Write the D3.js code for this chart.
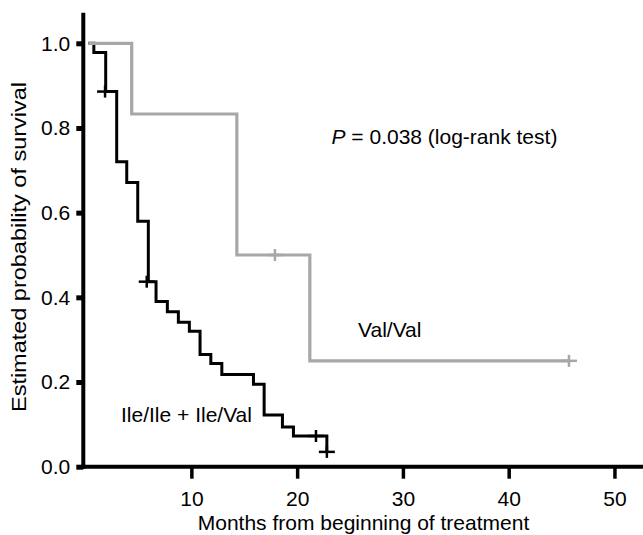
<!DOCTYPE html>
<html>
<head>
<meta charset="utf-8">
<script src="https://cdn.jsdelivr.net/npm/d3@7"></script>
<style>
  html, body { margin: 0; padding: 0; background: #fff; }
  svg { display: block; }
  text { font-family: "Liberation Sans", Arial, Helvetica, sans-serif; fill: #000; }
</style>
</head>
<body>
<svg id="chart" width="643" height="535"></svg>
<script>
// ---- data ----
const blackStart = 0.25;
const blackTimes = [0.78, 1.9, 2.94, 3.89, 4.93, 5.93, 6.66, 7.73, 8.77, 9.81, 10.82, 11.84, 12.88, 15.87, 16.88, 18.61, 19.65, 22.81];
const blackSurv  = [0.978, 0.886, 0.72, 0.671, 0.58, 0.437, 0.39, 0.366, 0.341, 0.32, 0.265, 0.244, 0.218, 0.195, 0.122, 0.094, 0.0725, 0.035];
const blackCensorTimes = [1.84, 5.78, 21.78, 22.81];
const blackCensorSurv  = [0.886, 0.437, 0.0725, 0.035];

const grayStart = 0.25;
const grayTimes = [4.36, 14.3, 21.2];
const graySurv  = [0.833, 0.5, 0.25];
const grayEnd = 45.7;
const grayCensorTimes = [17.9, 45.7];
const grayCensorSurv  = [0.5, 0.25];

const xTicks = [10, 20, 30, 40, 50];
const yTicks = [0, 0.2, 0.4, 0.6, 0.8, 1.0];
const yTickLabels = ["0.0", "0.2", "0.4", "0.6", "0.8", "1.0"];

const pText = "= 0.038 (log-rank test)";
const labelGray = "Val/Val";
const labelBlack = "Ile/Ile + Ile/Val";
const xTitle = "Months from beginning of treatment";
const yTitle = "Estimated probability of survival";

// ---- scales ----
const svg = d3.select("#chart");
const x = d3.scaleLinear().domain([0, 52.7]).range([85.6, 643]);
const y = d3.scaleLinear().domain([0, 1]).range([466.7, 43.3]);
const FS = 21;
const grayColor = "#a7a7a7";

// step path builder
function stepPoints(start, times, surv, end) {
  const pts = [[start, 1]];
  let cur = 1;
  times.forEach((t, i) => {
    pts.push([t, cur]);
    cur = surv[i];
    pts.push([t, cur]);
  });
  if (end !== undefined) pts.push([end, cur]);
  return pts;
}
const line = d3.line().x(d => x(d[0])).y(d => y(d[1]));

// ---- axes ----
const axisX = x(0) - 2.3;
const gy = svg.append("g").attr("transform", `translate(${axisX},0)`)
  .call(d3.axisLeft(y).tickValues(yTicks).tickFormat((d, i) => yTickLabels[i]).tickSize(7).tickPadding(6));
gy.select(".domain").remove();
gy.selectAll(".tick line").attr("stroke", "#000").attr("stroke-width", 5);
gy.selectAll(".tick text").style("font-size", FS + "px").attr("fill", "#000");

const gx = svg.append("g").attr("transform", `translate(0,${y(0)})`)
  .call(d3.axisBottom(x).tickValues(xTicks).tickFormat(d3.format("d")).tickSize(12).tickPadding(12));
gx.select(".domain").remove();
gx.selectAll(".tick line").attr("stroke", "#000").attr("stroke-width", 3.5);
gx.selectAll(".tick text").style("font-size", FS + "px").attr("fill", "#000");

svg.append("line").attr("x1", axisX).attr("x2", axisX)
  .attr("y1", y(1.072)).attr("y2", y(0) + 2)
  .attr("stroke", "#000").attr("stroke-width", 4);
svg.append("line").attr("x1", axisX - 2).attr("x2", x(52.7))
  .attr("y1", y(0)).attr("y2", y(0))
  .attr("stroke", "#000").attr("stroke-width", 4);

// ---- curves ----
svg.append("path")
  .attr("d", line(stepPoints(blackStart, blackTimes, blackSurv)))
  .attr("fill", "none").attr("stroke", "#000").attr("stroke-width", 3);
svg.append("path")
  .attr("d", line(stepPoints(grayStart, grayTimes, graySurv, grayEnd)))
  .attr("fill", "none").attr("stroke", grayColor).attr("stroke-width", 3.2);

function censors(times, surv, color, w) {
  const g = svg.append("g");
  times.forEach((t, i) => {
    const cx = x(t), cy = y(surv[i]);
    g.append("line").attr("x1", cx - 8).attr("x2", cx + 8).attr("y1", cy).attr("y2", cy)
      .attr("stroke", color).attr("stroke-width", w);
    g.append("line").attr("x1", cx).attr("x2", cx).attr("y1", cy - 6).attr("y2", cy + 6)
      .attr("stroke", color).attr("stroke-width", w);
  });
}
censors(blackCensorTimes, blackCensorSurv, "#000", 2.5);
censors(grayCensorTimes, grayCensorSurv, grayColor, 2.5);

// ---- texts ----
const pt = svg.append("text").attr("x", 331.5).attr("y", 144).style("font-size", FS + "px");
pt.append("tspan").style("font-style", "italic").text("P");
pt.append("tspan").text(" " + pText);

svg.append("text").attr("x", 358).attr("y", 337).style("font-size", FS + "px").text(labelGray);
svg.append("text").attr("x", 121).attr("y", 422).style("font-size", FS + "px").text(labelBlack);

svg.append("text").attr("x", 363.5).attr("y", 530).attr("text-anchor", "middle")
  .style("font-size", FS + "px").text(xTitle);
svg.append("text").attr("transform", "translate(26,247) rotate(-90)").attr("text-anchor", "middle")
  .attr("textLength", 330).attr("lengthAdjust", "spacingAndGlyphs")
  .style("font-size", "20px").text(yTitle);
</script>
</body>
</html>
